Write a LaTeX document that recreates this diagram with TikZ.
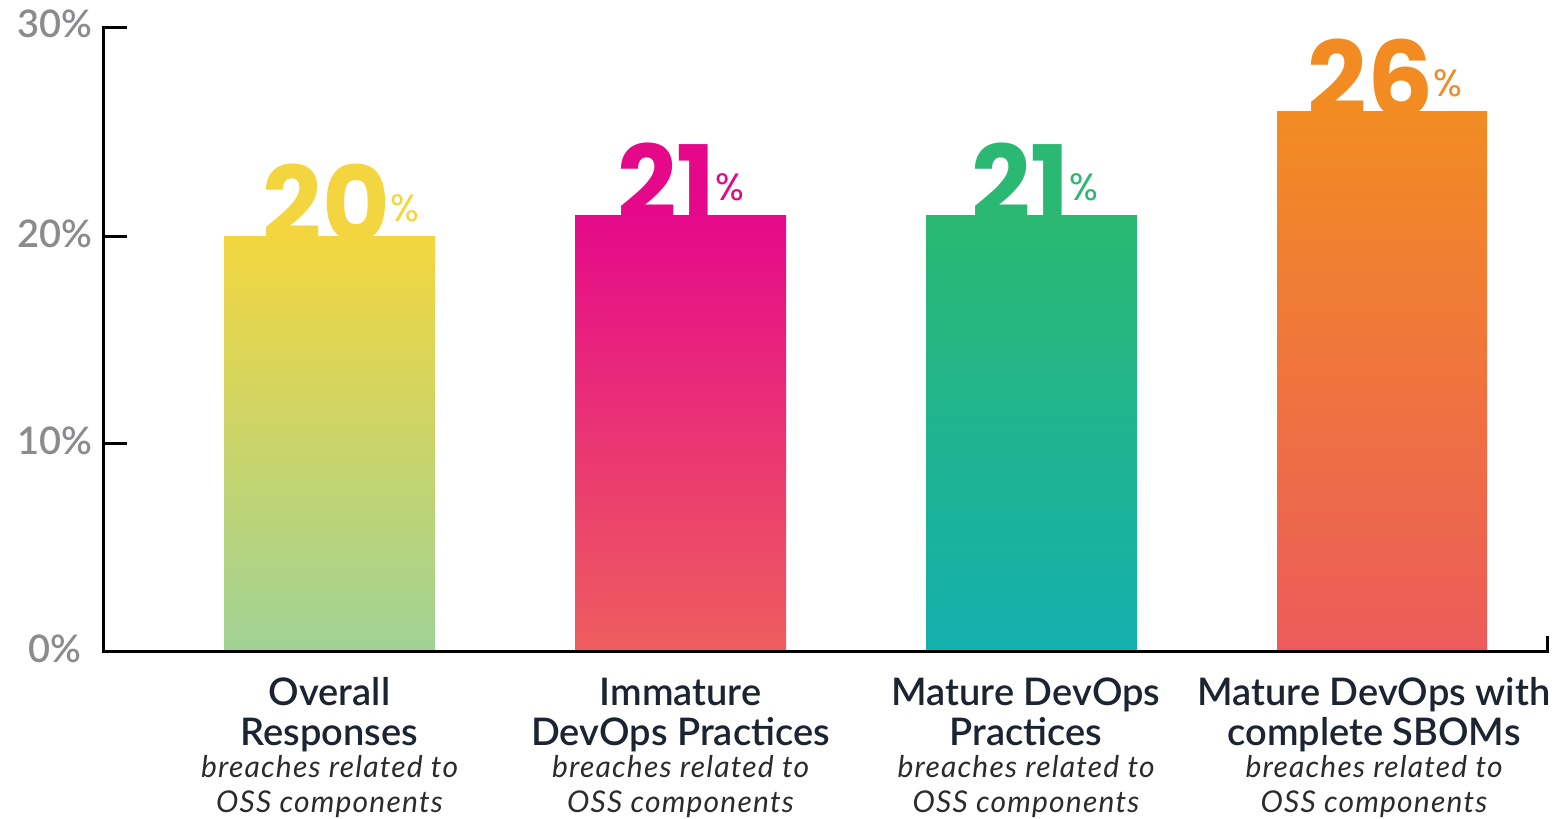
\documentclass[tikz,border=0pt]{standalone}
\usepackage{fontspec}
\setmainfont{Lato}
\newfontfamily\numfont{Poppins}
\newfontfamily\headfont{Lato Semibold}
\newfontfamily\subfont{Lato}[LetterSpace=4]
\usetikzlibrary{positioning}

\definecolor{axisgray}{HTML}{8A8B8D}
\definecolor{labelink}{HTML}{1B2430}
\definecolor{subink}{HTML}{2B2B2B}
\definecolor{yellowtop}{HTML}{F3D63F}
\definecolor{yellowbot}{HTML}{A0D296}
\definecolor{pinktop}{HTML}{E5098A}
\definecolor{pinkmid}{HTML}{E9416F}
\definecolor{pinkbot}{HTML}{EE5E5E}
\definecolor{greentop}{HTML}{2BB872}
\definecolor{greenmid}{HTML}{0FB09B}
\definecolor{greenbot}{HTML}{14B0AE}
\definecolor{orangetop}{HTML}{F28C22}
\definecolor{orangebot}{HTML}{EC5B5B}

\begin{document}
\begin{tikzpicture}[x=0.5pt,y=-0.5pt]
\tikzset{ticklabel/.style = {font=\headfont\fontsize{19}{19}\selectfont,text=axisgray,anchor=base,inner sep=0}}
\tikzset{bignum/.style = {font=\numfont\bfseries\fontsize{52}{52}\selectfont,anchor=base,inner sep=0}}
\tikzset{headline/.style = {font=\headfont\fontsize{19}{19}\selectfont,text=labelink,anchor=base,inner sep=0}}
\tikzset{subline/.style = {font=\subfont\itshape\fontsize{15}{15}\selectfont,text=subink,anchor=base,inner sep=0}}
\newcommand{\pct}{\raisebox{10pt}{\mdseries\fontsize{19}{19}\selectfont\%}}
\useasboundingbox (0,0) rectangle (1560,819);
% axis labels
\node[ticklabel] (t30) at (55,38) {30\%};
\node[ticklabel] (t20) at (55,247) {20\%};
\node[ticklabel] (t10) at (55,454) {10\%};
\node[ticklabel] (t0) at (55,662) {0\%};
% values
\node[bignum,text=yellowtop] (v1) at (341,241) {20\pct};
\node[bignum,text=pinktop] (v2) at (681,220) {21\pct};
\node[bignum,text=greentop] (v3) at (1035,220) {21\pct};
\node[bignum,text=orangetop] (v4) at (1385,116) {26\pct};
% bars
\shade[top color=yellowtop,bottom color=yellowbot] (224,236) rectangle (435,651);
\shade[top color=pinktop,middle color=pinkmid,bottom color=pinkbot] (575,215) rectangle (786,651);
\shade[top color=greentop,middle color=greenmid,bottom color=greenbot] (926,215) rectangle (1137,651);
\shade[top color=orangetop,bottom color=orangebot] (1277,111) rectangle (1487,651);
% axes
\draw[line width=1.5pt] (127,27) -- (103,27) -- (103,651) -- (1547,651) -- (1547,636);
\draw[line width=1.5pt] (103,236) -- (127,236);
\draw[line width=1.5pt] (103,443) -- (127,443);
% labels
\node[headline] (h1a) at (329.5,705) {Overall};
\node[headline] (h1b) at (329.5,745) {Responses};
\node[subline] (s1a) at (329.5,777) {breaches related to};
\node[subline] (s1b) at (329.5,812) {OSS components};
\node[headline] (h2a) at (680.5,705) {Immature};
\node[headline] (h2b) at (680.5,745) {DevOps Practices};
\node[subline] (s2a) at (680.5,777) {breaches related to};
\node[subline] (s2b) at (680.5,812) {OSS components};
\node[headline] (h3a) at (1026,705) {Mature DevOps};
\node[headline] (h3b) at (1026,745) {Practices};
\node[subline] (s3a) at (1026,777) {breaches related to};
\node[subline] (s3b) at (1026,812) {OSS components};
\node[headline] (h4a) at (1374,705) {Mature DevOps with};
\node[headline] (h4b) at (1374,745) {complete SBOMs};
\node[subline] (s4a) at (1374,777) {breaches related to};
\node[subline] (s4b) at (1374,812) {OSS components};
\end{tikzpicture}
\end{document}
